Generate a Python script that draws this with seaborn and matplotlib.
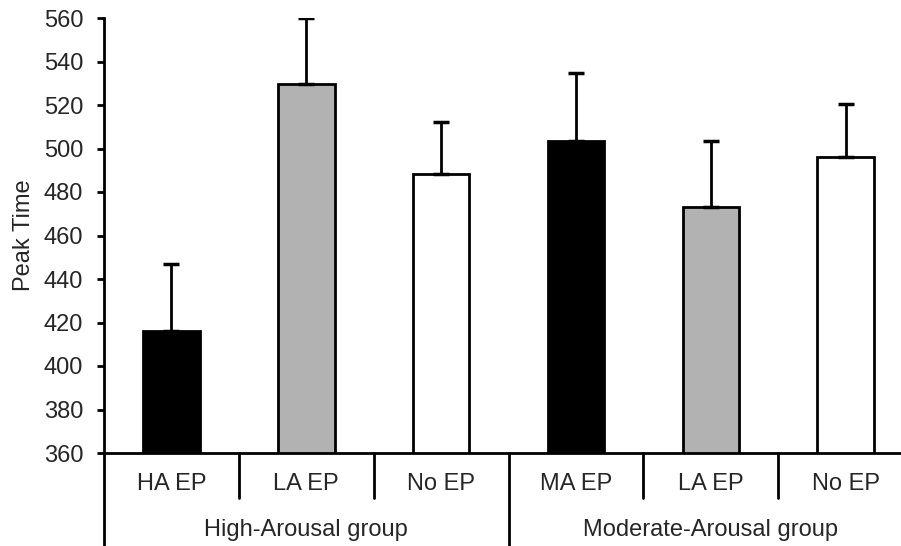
import matplotlib
matplotlib.use("Agg")
import matplotlib.pyplot as plt
import matplotlib.transforms as mtransforms
import seaborn as sns
import pandas as pd

conditions = ["HA EP", "LA EP", "No EP", "MA EP", "LA EP", "No EP"]
groups = ["High-Arousal group", "Moderate-Arousal group"]
peak_time = [416, 529.5, 488.5, 503.5, 473, 496]
error_up = [31, 30.5, 23.5, 31, 30.5, 24.5]
colors = ["#000000", "#b2b2b2", "#ffffff", "#000000", "#b2b2b2", "#ffffff"]
yticks = [360, 380, 400, 420, 440, 460, 480, 500, 520, 540, 560]

sns.set_theme(style="white")
plt.rcParams["font.family"] = ["Liberation Sans", "DejaVu Sans"]

keys = [f"{c}_{i}" for i, c in enumerate(conditions)]
df = pd.DataFrame({"key": keys, "value": peak_time})

FS = 17
W, H = 901, 546
fig = plt.figure(figsize=(W / 100, H / 100), dpi=100)
left, right, top, bottom = 104, 901, 18, 453
ax = fig.add_axes([left / W, 1 - bottom / H, (right - left) / W, (bottom - top) / H])

sns.barplot(data=df, x="key", y="value", hue="key", palette=colors, legend=False,
            edgecolor="black", linewidth=2, width=0.42, ax=ax, errorbar=None)
ax.errorbar(range(len(keys)), peak_time, yerr=[[0] * len(keys), error_up], fmt="none",
            ecolor="black", elinewidth=2, capsize=5.5, capthick=2.5, zorder=1)

ax.set_ylim(360, 560)
ax.set_yticks(yticks)
ax.set_yticklabels([str(t) for t in yticks], fontsize=FS)
ax.set_xlim(-0.5, 5.41)
ax.set_xticks([])
ax.set_xlabel("")
ax.set_ylabel("Peak Time", fontsize=FS, labelpad=6)

for s in ["top", "right"]:
    ax.spines[s].set_visible(False)
for s in ["left", "bottom"]:
    ax.spines[s].set_color("black")
    ax.spines[s].set_linewidth(2)
ax.tick_params(axis="y", which="both", left=True, length=5, width=2, color="black", pad=10)

trans = mtransforms.blended_transform_factory(ax.transData, ax.transAxes)
ah = bottom - top
tick_y = -45 / ah
grp_y = -(H - bottom) / ah
for xb in [0.5, 1.5, 3.5, 4.5]:
    ax.plot([xb, xb], [0, tick_y], color="black", lw=2, transform=trans, clip_on=False)
for xb in [-0.5, 2.5]:
    ax.plot([xb, xb], [0, grp_y], color="black", lw=2, transform=trans, clip_on=False)

for i, c in enumerate(conditions):
    ax.text(i, -31 / ah, c, transform=trans, ha="center", va="center", fontsize=FS)
for gi, g in enumerate(groups):
    ax.text(1 + 3 * gi, -77 / ah, g, transform=trans, ha="center", va="center", fontsize=FS)

fig.savefig("out.png", dpi=100)
